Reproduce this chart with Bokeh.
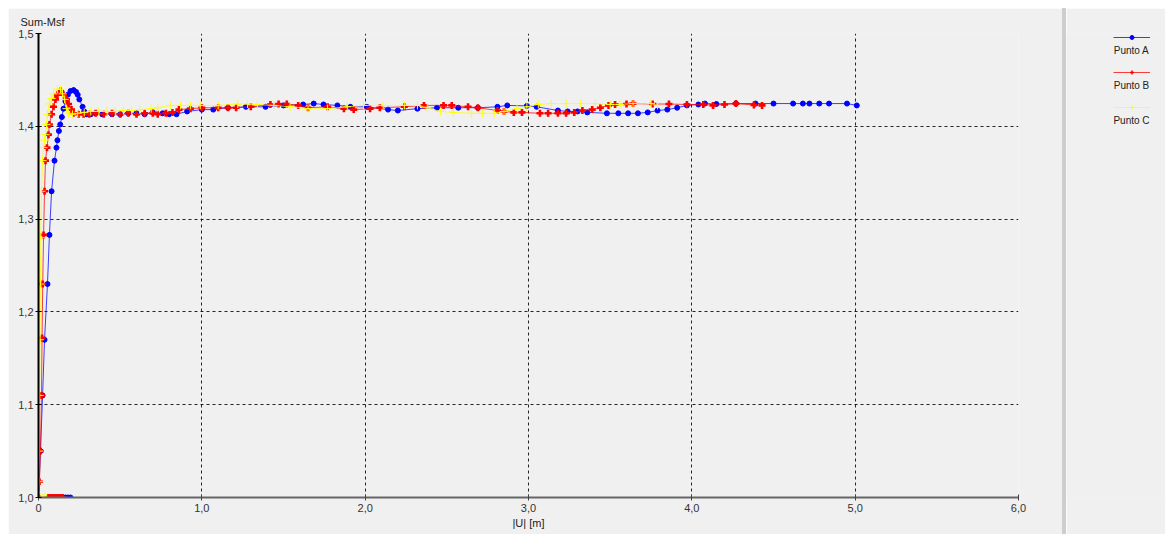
from bokeh.plotting import figure
from bokeh.models import Range1d, FixedTicker, Legend, LegendItem, Label, Div, ColumnDataSource
from bokeh.layouts import row
from bokeh.embed import file_html
from bokeh.resources import INLINE

# ---------------- data ----------------
a_x = [0.196, 0.18, 0.165, 0.15, 0.135, 0.12, 0.105, 0.09, 0.075, 0.06, 0.0,
       0.012, 0.025, 0.037, 0.055, 0.067, 0.08, 0.098, 0.11, 0.116, 0.125, 0.133, 0.143,
       0.153, 0.165, 0.18, 0.196, 0.215, 0.23, 0.24, 0.25, 0.27, 0.28, 0.294, 0.32,
       0.35, 0.39, 0.45, 0.5, 0.55, 0.6, 0.65, 0.70, 0.76, 0.8, 0.845, 0.91, 1.0,
       1.07, 1.16, 1.27, 1.39, 1.5, 1.62, 1.685, 1.745, 1.83, 1.91, 2.01, 2.14, 2.2,
       2.32, 2.44, 2.57, 2.69, 2.81, 2.87, 2.99, 3.05, 3.18, 3.24, 3.3, 3.36, 3.48,
       3.55, 3.61, 3.67, 3.73, 3.79, 3.85, 3.91, 3.97, 4.04, 4.08, 4.15, 4.27, 4.39,
       4.5, 4.62, 4.68, 4.72, 4.78, 4.84, 4.95, 5.01]
a_y = [1.0, 1.0, 1.0, 1.0, 1.0, 1.0, 1.0, 1.0, 1.0, 1.0, 1.0,
       1.05, 1.11, 1.17, 1.23, 1.283, 1.33, 1.363, 1.377, 1.385, 1.395, 1.402, 1.41,
       1.419, 1.427, 1.434, 1.438, 1.439, 1.437, 1.434, 1.429, 1.421, 1.416, 1.413, 1.413,
       1.414, 1.413, 1.413, 1.413, 1.414, 1.414, 1.413, 1.415, 1.414, 1.413, 1.413, 1.416, 1.418,
       1.418, 1.42, 1.421, 1.421, 1.4225, 1.4235, 1.4245, 1.4235, 1.4225, 1.421, 1.421, 1.418, 1.417,
       1.419, 1.42, 1.42, 1.42, 1.421, 1.4225, 1.422, 1.421, 1.417, 1.416, 1.416, 1.415, 1.414,
       1.414, 1.414, 1.414, 1.415, 1.417, 1.418, 1.42, 1.4225, 1.4235, 1.4245, 1.424, 1.4245, 1.4245,
       1.4245, 1.4245, 1.4245, 1.4245, 1.4245, 1.4245, 1.4245, 1.4225]

b_x = [0.147, 0.135, 0.12, 0.105, 0.09, 0.075, 0.06, 0.0,
       0.006, 0.012, 0.018, 0.022, 0.026, 0.031, 0.037, 0.043, 0.052, 0.061, 0.067,
       0.08, 0.092, 0.104, 0.116, 0.135, 0.153, 0.171, 0.184, 0.202, 0.214, 0.245,
       0.276, 0.31, 0.35, 0.4, 0.45, 0.5, 0.55, 0.6, 0.65, 0.70, 0.73, 0.78, 0.82,
       0.86, 0.93, 1.0, 1.1, 1.16, 1.21, 1.3, 1.42, 1.47, 1.52, 1.59, 1.65, 1.77,
       1.87, 1.93, 2.03, 2.09, 2.24, 2.36, 2.48, 2.53, 2.63, 2.69, 2.81, 2.85, 2.91,
       2.96, 3.07, 3.12, 3.18, 3.23, 3.28, 3.33, 3.39, 3.44, 3.49, 3.53, 3.6, 3.64,
       3.76, 3.86, 3.97, 4.07, 4.13, 4.2, 4.27, 4.38, 4.43]
b_y = [1.0, 1.0, 1.0, 1.0, 1.0, 1.0, 1.0, 1.0,
       1.017, 1.05, 1.11, 1.172, 1.23, 1.283, 1.33, 1.363, 1.377, 1.391, 1.402,
       1.413, 1.421, 1.429, 1.434, 1.438, 1.434, 1.429, 1.424, 1.418, 1.414, 1.413,
       1.413, 1.413, 1.414, 1.413, 1.414, 1.413, 1.414, 1.413, 1.414, 1.414, 1.413, 1.414, 1.415,
       1.418, 1.419, 1.42, 1.42, 1.42, 1.42, 1.421, 1.4235, 1.424, 1.424, 1.4225, 1.42, 1.421,
       1.419, 1.418, 1.419, 1.42, 1.421, 1.4225, 1.4225, 1.4225, 1.421, 1.42, 1.417, 1.416, 1.415,
       1.415, 1.414, 1.414, 1.414, 1.414, 1.415, 1.417, 1.418, 1.42, 1.4225, 1.4235, 1.424, 1.4245,
       1.424, 1.424, 1.4235, 1.4235, 1.4225, 1.4235, 1.4245, 1.423, 1.4225]

c_x = [0.05, 0.04, 0.03, 0.02, 0.01, 0.0,
       0.003, 0.006, 0.007, 0.009, 0.012, 0.014, 0.018, 0.025, 0.031, 0.037, 0.043,
       0.049, 0.055, 0.067, 0.08, 0.092, 0.116, 0.135, 0.147, 0.16, 0.171, 0.184,
       0.208, 0.24, 0.28, 0.32, 0.37, 0.42, 0.47, 0.52, 0.57, 0.62, 0.69, 0.73,
       0.81, 0.87, 0.93, 0.99, 1.1, 1.22, 1.28, 1.34, 1.44, 1.54, 1.65, 1.77, 1.89,
       1.99, 2.11, 2.24, 2.32, 2.38, 2.46, 2.54, 2.65, 2.72, 2.79, 2.85, 2.93, 2.99,
       3.06, 3.14, 3.23, 3.32, 3.41, 3.5, 3.56, 3.64, 3.75, 3.79]
c_y = [1.0, 1.0, 1.0, 1.0, 1.0, 1.0,
       1.017, 1.05, 1.11, 1.17, 1.23, 1.28, 1.33, 1.363, 1.377, 1.385, 1.391,
       1.402, 1.413, 1.424, 1.43, 1.435, 1.44, 1.44, 1.435, 1.429, 1.419, 1.414,
       1.413, 1.414, 1.415, 1.416, 1.416, 1.416, 1.416, 1.417, 1.417, 1.418, 1.419, 1.42,
       1.4225, 1.4225, 1.4225, 1.4225, 1.4225, 1.424, 1.424, 1.4235, 1.4225, 1.421, 1.419, 1.419, 1.421,
       1.4225, 1.4225, 1.4225, 1.4225, 1.42, 1.416, 1.415, 1.414, 1.414, 1.414, 1.416, 1.419, 1.421,
       1.4235, 1.4245, 1.4245, 1.4245, 1.4245, 1.4235, 1.4235, 1.4245, 1.4245, 1.4225]

series_names = ["Punto A", "Punto B", "Punto C"]
series_colors = ["#0000ff", "#ff0000", "#ffff00"]

x_ticks = [0, 1, 2, 3, 4, 5, 6]
x_tick_labels = ["0", "1,0", "2,0", "3,0", "4,0", "5,0", "6,0"]
y_ticks = [1.0, 1.1, 1.2, 1.3, 1.4, 1.5]
y_tick_labels = ["1,0", "1,1", "1,2", "1,3", "1,4", "1,5"]

y_title = "Sum-Msf"
x_title = "|U| [m]"

FONT = "Liberation Sans"
FS = "11px"
BG = "#f0f0f0"
H = 526
TOP, BOT = 24, 37
FRAME_BOTTOM = 497  # page y of the (aligned) frame bottom

# ---------------- main figure ----------------
p = figure(width=1054, height=H, output_backend="svg", toolbar_location=None,
           x_range=Range1d(0, 6), y_range=Range1d(1.0, 1.5),
           min_border_left=30, min_border_right=44, min_border_top=TOP, min_border_bottom=BOT,
           background_fill_color=BG, border_fill_color=BG, outline_line_color=None,
           title=y_title, title_location="above")
p.title.align = "left"
p.title.offset = -18
p.title.standoff = 11
p.title.text_font = FONT
p.title.text_font_size = FS
p.title.text_font_style = "normal"
p.title.text_color = "#222222"

p.xaxis.ticker = FixedTicker(ticks=x_ticks)
p.yaxis.ticker = FixedTicker(ticks=y_ticks)
p.xaxis.major_label_overrides = {float(t): l for t, l in zip(x_ticks, x_tick_labels)}
p.yaxis.major_label_overrides = {float(t): l for t, l in zip(y_ticks, y_tick_labels)}
p.xaxis.minor_tick_line_color = None
p.yaxis.minor_tick_line_color = None

for ax in (p.xaxis[0], p.yaxis[0]):
    ax.major_label_text_font = FONT
    ax.major_label_text_font_size = FS
    ax.major_label_text_color = "#333333"
    ax.major_tick_in = 3
    ax.major_tick_out = 3
p.xaxis.major_label_standoff = 3
p.yaxis.major_label_standoff = 2
p.yaxis.axis_line_color = "#000000"
p.yaxis.axis_line_width = 2
p.yaxis.major_tick_line_color = "#000000"
p.xaxis.axis_line_color = "#666666"
p.xaxis.axis_line_width = 2
p.xaxis.major_tick_line_color = "#444444"
p.xaxis.axis_label = x_title
p.xaxis.axis_label_standoff = 2
p.xaxis.axis_label_text_font = FONT
p.xaxis.axis_label_text_font_size = FS
p.xaxis.axis_label_text_font_style = "normal"
p.xaxis.axis_label_text_color = "#222222"

p.xgrid.grid_line_color = "#000000"
p.ygrid.grid_line_color = "#000000"
p.xgrid.grid_line_dash = "3 3"
p.ygrid.grid_line_dash = "3 3"
p.xgrid.grid_line_alpha = 0.85
p.ygrid.grid_line_alpha = 0.85

# ---------------- series ----------------
sources = [ColumnDataSource(dict(x=a_x, y=a_y)),
           ColumnDataSource(dict(x=b_x, y=b_y)),
           ColumnDataSource(dict(x=c_x, y=c_y))]
markers = [("circle", 5, 1), ("plus", 7, 0), ("cross", 8, 1)]


def draw(fig, src, col, mk, sz, lw):
    ln = fig.line("x", "y", source=src, line_color=col, line_width=1, line_alpha=0.75)
    if mk == "cross":
        sc = fig.scatter("x", "y", source=src, marker=mk, size=sz, line_color=col, line_width=lw)
    else:
        sc = fig.scatter("x", "y", source=src, marker=mk, size=sz, fill_color=col,
                         line_color=col, line_width=lw)
    return ln, sc


for src, col, (mk, sz, lw) in zip(sources, series_colors, markers):
    draw(p, src, col, mk, sz, lw)

# ---------------- separator ----------------
sep = Div(width=4, height=H, margin=0, styles={"background-color": "#cdcdcd"})

# ---------------- legend panel ----------------
# the legend panel shares the series sources; its ranges keep the data out of view
q = figure(width=99, height=H, output_backend="svg", toolbar_location=None,
           x_axis_type=None, y_axis_type=None,
           min_border_left=0, min_border_right=0, min_border_top=TOP, min_border_bottom=BOT,
           background_fill_color=BG, border_fill_color=BG, outline_line_color=None,
           x_range=Range1d(100, 101), y_range=Range1d(100, 101))
q.xgrid.visible = False
q.ygrid.visible = False
items = []
for src, col, (mk, sz, lw) in zip(sources, series_colors, markers):
    ln, sc = draw(q, src, col, mk, sz, lw)
    items.append(LegendItem(label=" ", renderers=[ln, sc]))

leg = Legend(items=items, location=(1113 - 1066, FRAME_BOTTOM - 112), orientation="vertical",
             glyph_width=37, glyph_height=10, spacing=25, padding=0, margin=0,
             label_standoff=0, label_text_font_size="1px", label_height=1, label_width=1,
             background_fill_alpha=0, border_line_color=None)
q.add_layout(leg, "center")

for name, ly in zip(series_names, [50, 85, 120]):
    q.add_layout(Label(x=1131 - 1066, y=FRAME_BOTTOM - ly, x_units="screen", y_units="screen",
                       text=name, text_align="center", text_baseline="middle",
                       text_font=FONT, text_font_size="10px", text_color="#222222"))

layout = row(p, sep, q, spacing=0, margin=(8, 0, 0, 8))

open("out.html", "w").write(file_html(layout, INLINE))
